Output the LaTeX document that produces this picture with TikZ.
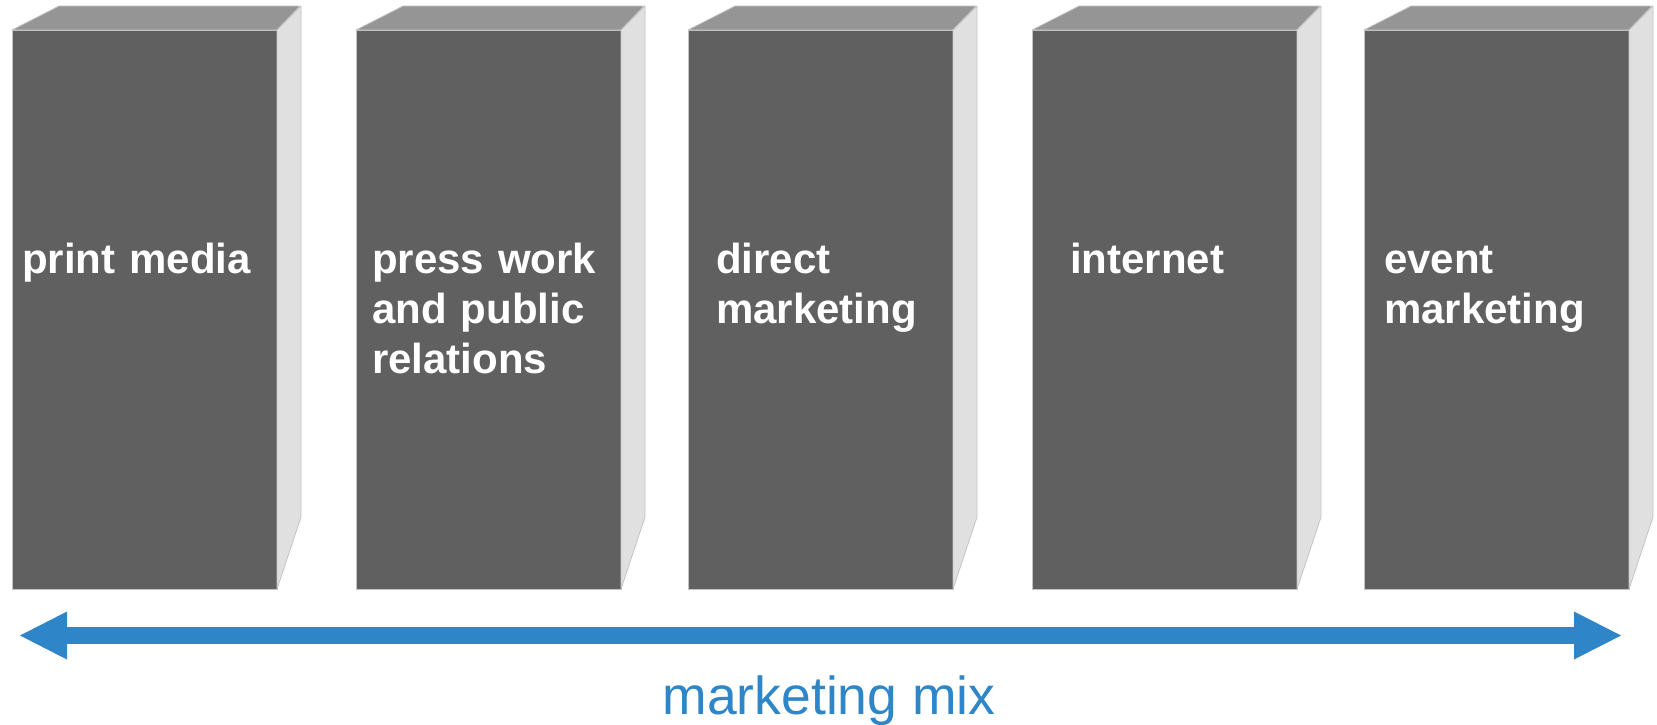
\documentclass[tikz,border=0pt]{standalone}
\usepackage{fontspec}
\setmainfont{Liberation Sans}
\usetikzlibrary{arrows.meta}
\definecolor{frontc}{HTML}{606060}
\definecolor{topc}{HTML}{959595}
\definecolor{sidec}{HTML}{E0E0E0}
\definecolor{edgec}{HTML}{C4C4C4}
\definecolor{mixblue}{HTML}{2E86C8}
\begin{document}
\begin{tikzpicture}[x=1pt,y=-1pt,
  front/.style={fill=frontc, draw=edgec, line width=0.8pt, minimum width=265pt, minimum height=559pt, inner sep=0pt, outer sep=0pt, anchor=north west},
  topface/.style={fill=topc, draw=edgec, line width=0.8pt, line join=round},
  sideface/.style={fill=sidec, draw=edgec, line width=0.8pt, line join=round},
  boxtext/.style={text=white, font=\fontsize{42}{50}\selectfont\bfseries, text width=260pt, align=left, anchor=base west, inner sep=0pt},
  mixarrow/.style={mixblue, line width=17pt, {Triangle[length=47pt,width=48pt,line width'=0pt]}-{Triangle[length=47pt,width=48pt,line width'=0pt]}},
  ]
\useasboundingbox (0,0) rectangle (1657,724);
\foreach \i/\x in {1/12,2/356,3/688,4/1032,5/1364}{
  \node[front] (b\i) at (\x,30) {};
  \path[topface] (b\i.north west) -- ++(47,-24) -- ++(241,0) -- (b\i.north east) -- cycle;
  \path[sideface] (b\i.north east) -- ++(24,-24) -- ++(0,511) -- (b\i.south east) -- cycle;
}
\node[boxtext] (t1) at (22,273) {print media};
\node[boxtext] (t2) at (372,273) {press work\\and public\\relations};
\node[boxtext] (t3) at (716,273) {direct\\marketing};
\node[boxtext] (t4) at (1070,273) {internet};
\node[boxtext] (t5) at (1384,273) {event\\marketing};
\coordinate (L) at (20,635.5);
\coordinate (R) at (1621,635.5);
\draw[mixarrow] (L) -- (R);
\node[font=\fontsize{53.5}{60}\selectfont, text=mixblue, anchor=base, inner sep=0pt] (mix) at (829,714) {marketing mix};
\end{tikzpicture}
\end{document}
